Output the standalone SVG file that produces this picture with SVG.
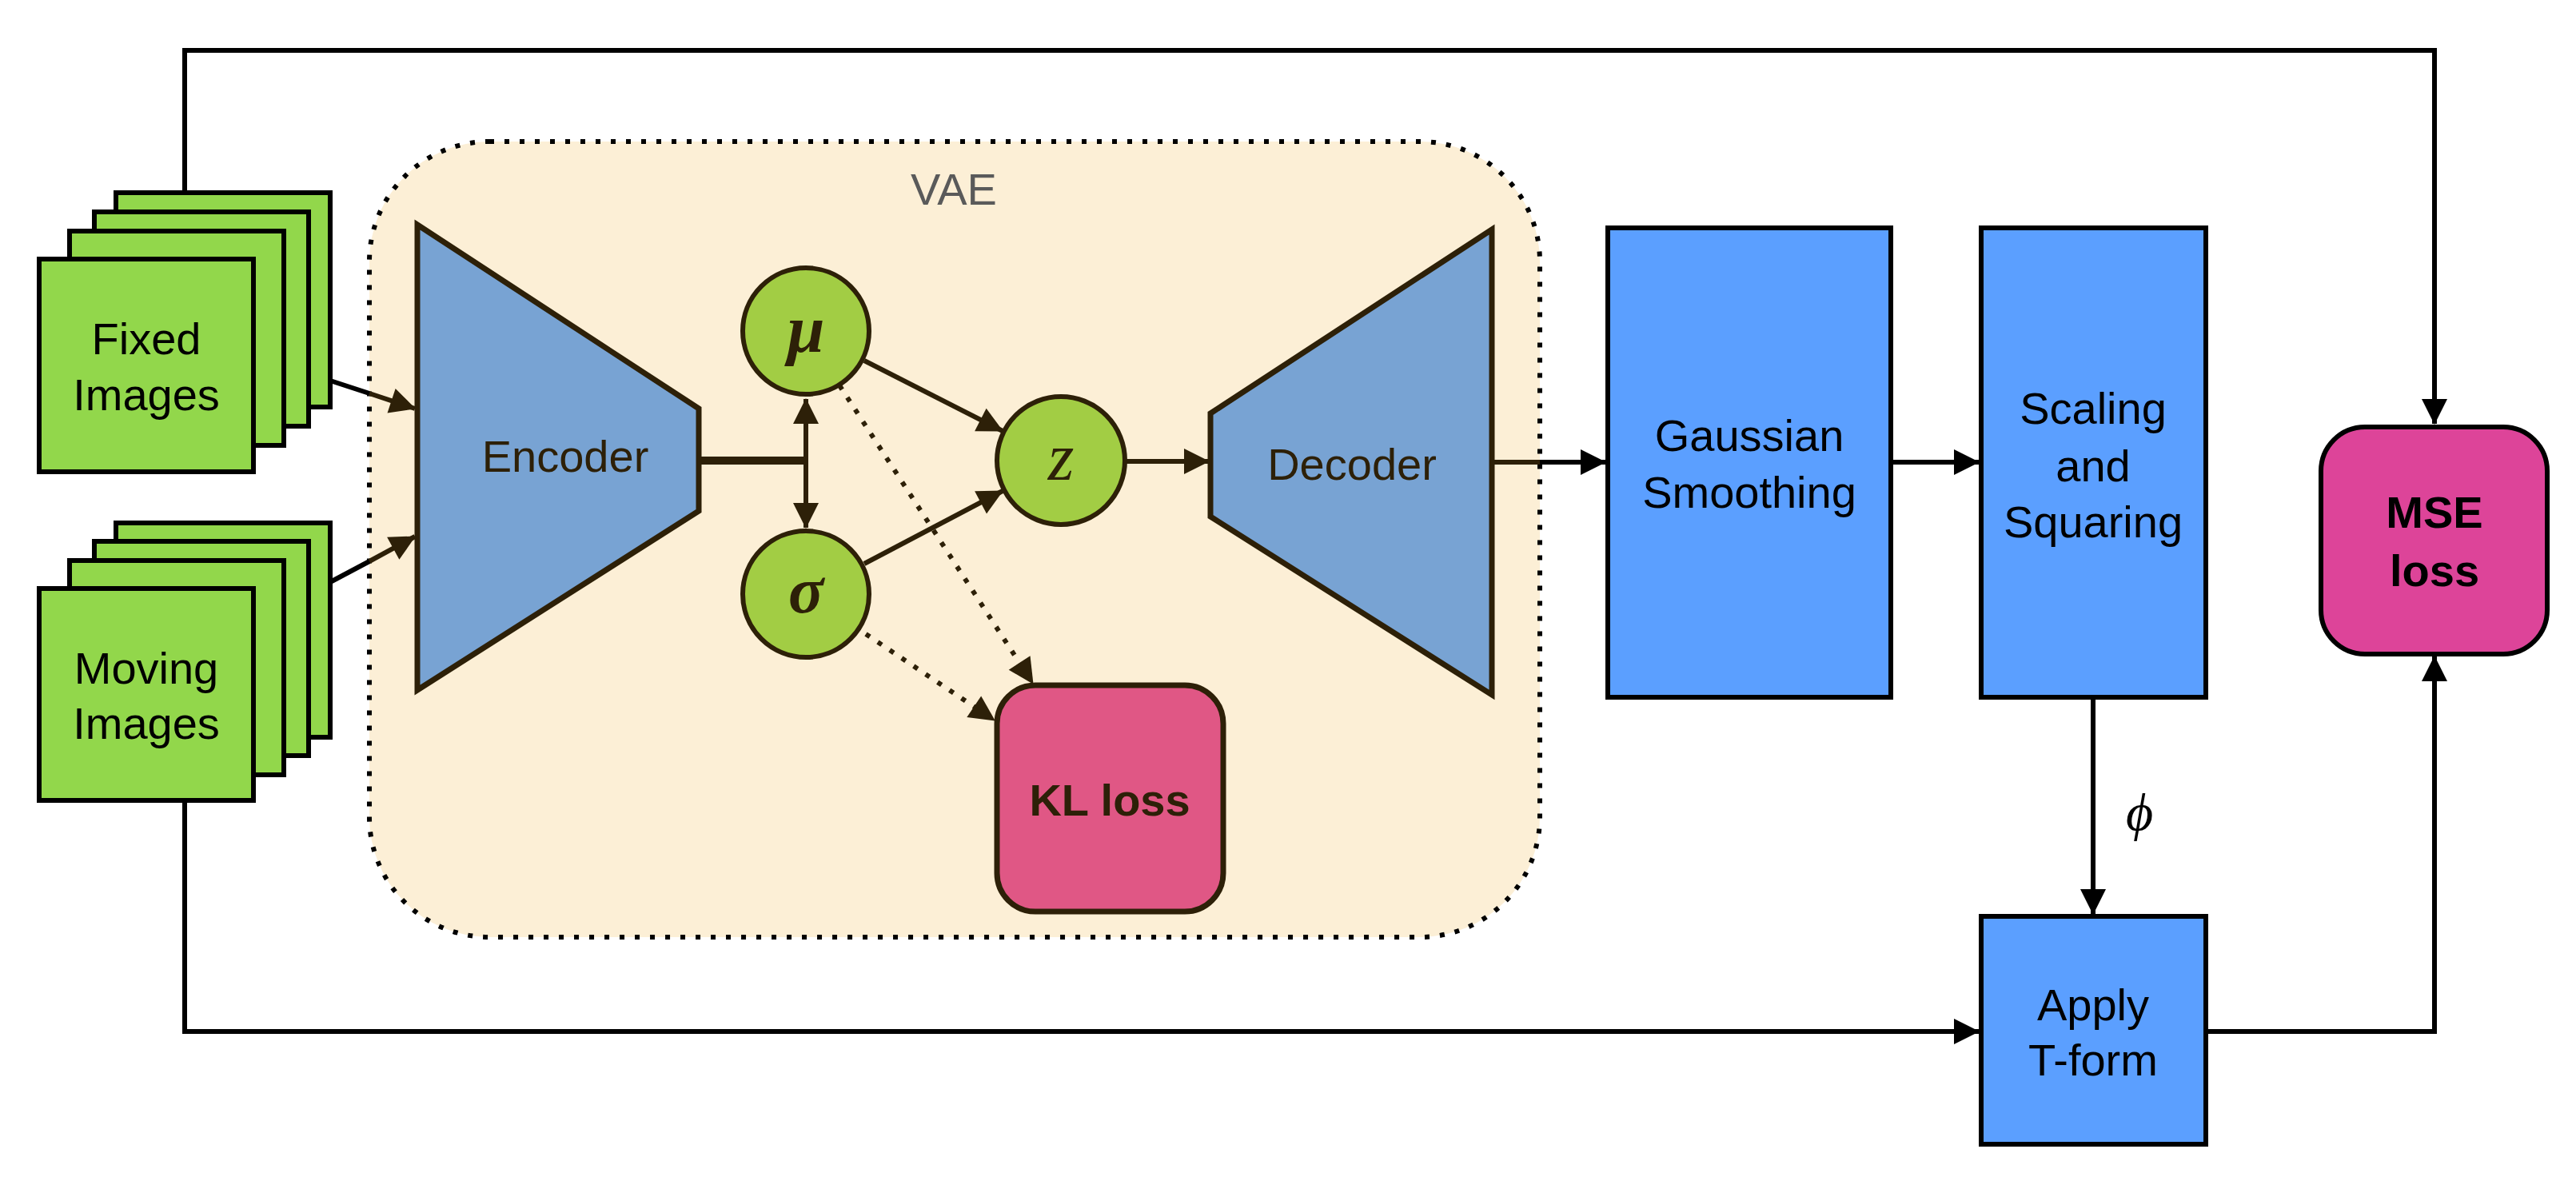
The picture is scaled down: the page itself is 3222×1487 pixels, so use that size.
<svg xmlns="http://www.w3.org/2000/svg" width="3222" height="1487" viewBox="0 0 3222 1487">
<defs>
<style>
.stk{fill:#92d74b;stroke:#000;stroke-width:6}
.lbl{font-family:"Liberation Sans",Arial,sans-serif;font-size:56px;text-anchor:middle}
.b{font-weight:bold}
.br{fill:#2d2008}
.blk{fill:#000}
.greek{font-family:"Liberation Serif","Times New Roman",serif;font-style:italic;text-anchor:middle;fill:#2d2008}
.blue{fill:#5b9fff;stroke:#000;stroke-width:6}
.trap{fill:#78a3d3;stroke:#2d2008;stroke-width:7}
.circ{fill:#a2cd44;stroke:#2d2008;stroke-width:6}
.cb{fill:none;stroke:#000;stroke-width:6}
.cbr{fill:none;stroke:#2d2008;stroke-width:6}
.dot{fill:none;stroke:#2d2008;stroke-width:6;stroke-dasharray:6 12}
</style>
<marker id="ab" markerUnits="userSpaceOnUse" markerWidth="34" markerHeight="34" viewBox="0 0 34 34" refX="32" refY="17" orient="auto"><path d="M1,1 L33,17 L1,33 z" fill="#000"/></marker>
<marker id="abr" markerUnits="userSpaceOnUse" markerWidth="34" markerHeight="34" viewBox="0 0 34 34" refX="32" refY="17" orient="auto"><path d="M1,1 L33,17 L1,33 z" fill="#2d2008"/></marker>
</defs>
<rect width="3222" height="1487" fill="#fff"/>

<g id="vae">
<rect x="462" y="177" width="1464" height="995" rx="150" ry="150" fill="#fcefd6" stroke="#000" stroke-width="6" stroke-dasharray="6 13"/>
<text class="lbl" x="1193" y="256" fill="#5a5a5a">VAE</text>
</g>

<g id="connectors">
<path class="cb" d="M231,241 V63 H3045 V530" marker-end="url(#ab)"/>
<path class="cb" d="M231,1001 V1290 H2475" marker-end="url(#ab)"/>
<path class="cb" d="M2759,1290 H3045 V821" marker-end="url(#ab)"/>
<path class="cb" d="M413,476 L462,492"/>
<path class="cbr" d="M462,492 L519,511" marker-end="url(#abr)"/>
<path class="cb" d="M413,728 L462,702"/>
<path class="cbr" d="M462,702 L519,671" marker-end="url(#abr)"/>
<path fill="none" stroke="#2d2008" stroke-width="10" d="M874,576 H1008"/>
<path class="cbr" d="M1008,576 V499" marker-end="url(#abr)"/>
<path class="cbr" d="M1008,576 V660" marker-end="url(#abr)"/>
<path class="cbr" d="M1081,451 L1254,539" marker-end="url(#abr)"/>
<path class="cbr" d="M1081,705 L1254,614" marker-end="url(#abr)"/>
<path class="dot" d="M1050,482 L1292,855" marker-end="url(#abr)"/>
<path class="dot" d="M1083,793 L1244,901" marker-end="url(#abr)"/>
<path class="cbr" d="M1408,577 H1512" marker-end="url(#abr)"/>
<path class="cbr" d="M1866,578 H1926"/>
<path class="cb" d="M1926,578 H2008" marker-end="url(#ab)"/>
<path class="cb" d="M2365,578 H2475" marker-end="url(#ab)"/>
<path class="cb" d="M2618,872 V1143" marker-end="url(#ab)"/>
<text class="greek" x="2676" y="1038" font-size="66" style="fill:#000">ϕ</text>
</g>

<g id="fixed-images">
<rect class="stk" x="145" y="241" width="268" height="268"/>
<rect class="stk" x="118" y="265" width="268" height="268"/>
<rect class="stk" x="87" y="289" width="268" height="268"/>
<rect class="stk" x="49" y="324" width="268" height="266"/>
<text class="lbl blk" x="183" y="443">Fixed</text>
<text class="lbl blk" x="183" y="513">Images</text>
</g>

<g id="moving-images">
<rect class="stk" x="145" y="654" width="268" height="268"/>
<rect class="stk" x="118" y="677" width="268" height="268"/>
<rect class="stk" x="87" y="701" width="268" height="268"/>
<rect class="stk" x="49" y="736" width="268" height="265"/>
<text class="lbl blk" x="183" y="855">Moving</text>
<text class="lbl blk" x="183" y="924">Images</text>
</g>

<g id="encoder">
<polygon class="trap" points="522,281 874,511 874,639 522,863"/>
<text class="lbl br" x="707" y="590">Encoder</text>
</g>

<g id="mu">
<circle class="circ" cx="1008" cy="414" r="79"/>
<text class="greek" x="1008" y="440" font-size="84" font-weight="bold">μ</text>
</g>

<g id="sigma">
<circle class="circ" cx="1008" cy="743" r="79"/>
<text class="greek" x="1008" y="766" font-size="82" font-weight="bold">σ</text>
</g>

<g id="z">
<circle class="circ" cx="1327" cy="576" r="80"/>
<text class="greek" x="1327" y="600" font-size="84">z</text>
</g>

<g id="kl-loss">
<rect x="1247" y="857" width="283" height="283" rx="48" ry="48" fill="#e05785" stroke="#2d2008" stroke-width="7"/>
<text class="lbl b br" x="1388" y="1020">KL loss</text>
</g>

<g id="decoder">
<polygon class="trap" points="1514,517 1866,287 1866,869 1514,646"/>
<text class="lbl br" x="1691" y="600">Decoder</text>
</g>

<g id="gaussian">
<rect class="blue" x="2011" y="285" width="354" height="587"/>
<text class="lbl blk" x="2188" y="564">Gaussian</text>
<text class="lbl blk" x="2188" y="635">Smoothing</text>
</g>

<g id="scaling">
<rect class="blue" x="2478" y="285" width="281" height="587"/>
<text class="lbl blk" x="2618" y="530">Scaling</text>
<text class="lbl blk" x="2618" y="602">and</text>
<text class="lbl blk" x="2618" y="672">Squaring</text>
</g>

<g id="apply">
<rect class="blue" x="2478" y="1146" width="281" height="285"/>
<text class="lbl blk" x="2618" y="1276">Apply</text>
<text class="lbl blk" x="2618" y="1345">T-form</text>
</g>

<g id="mse-loss">
<rect x="2903" y="534" width="283" height="284" rx="55" ry="55" fill="#dd4499" stroke="#000" stroke-width="6"/>
<text class="lbl b blk" x="3045" y="660">MSE</text>
<text class="lbl b blk" x="3045" y="733">loss</text>
</g>
</svg>
